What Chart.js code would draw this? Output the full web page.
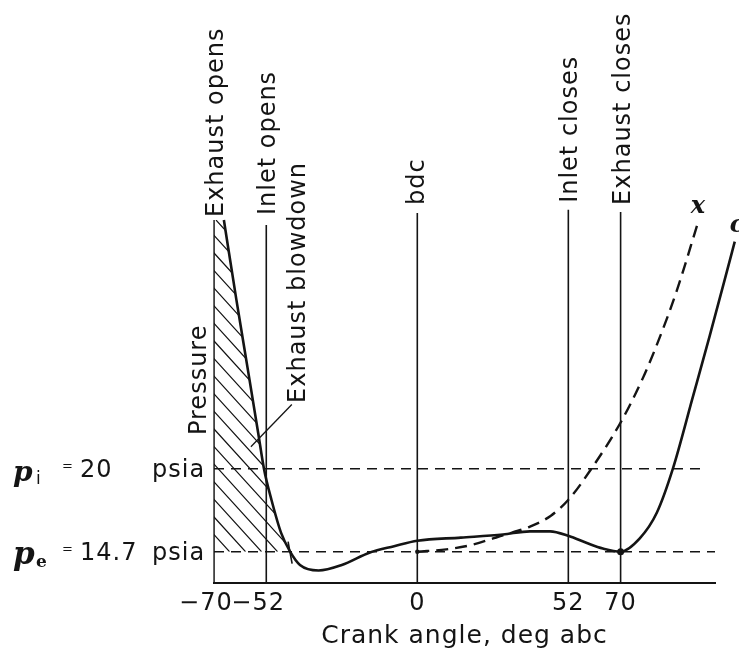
<!DOCTYPE html>
<html lang="en">
<head>
<meta charset="UTF-8">
<title>Valve timing and cylinder pressure</title>
<style>
  html, body { margin: 0; padding: 0; background: #fff; }
  #wrap { width: 739px; height: 655px; position: relative; }
</style>
</head>
<body>
<div id="wrap"><canvas id="valveChart"></canvas></div>

<script src="https://cdn.jsdelivr.net/npm/chart.js"></script>
<script>
// valve events, crank angle in deg abc
const eventAngles = [-70, -52, 0, 52, 70];
const eventNames = ['Exhaust opens', 'Inlet opens', 'bdc', 'Inlet closes', 'Exhaust closes'];
const eventTops = [35.88, 35.56, 36.33, 36.53, 36.4]; // psia where each marker stops

const tickAngles = [-70, -52, 0, 52, 70];

// reference pressures, psia
const pInlet = 20;
const pExhaust = 14.7;
const levelEnds = [99.7, 102.5];

// cylinder pressure, curve c
const cylAngle = [-66.6, -62.3, -58.5, -54.8, -52.8, -50.2, -46.9, -43.8, -40.4, -34, -26, -16.3, -8, 0, 15,
                  29.5, 38.8, 45.7, 52.2, 58.4, 63.9, 70, 76.6, 82.5, 88, 94.9, 100.7, 106.6, 109.3];
const cylPressure = [35.88, 30.8, 26.5, 22.3, 20.0, 18.0, 15.9, 14.7, 13.85, 13.5, 13.85, 14.65, 15.05, 15.4, 15.6,
                     15.8, 16.0, 16.0, 15.7, 15.25, 14.9, 14.7, 15.55, 17.2, 20.0, 24.6, 28.5, 32.6, 34.5];

// curve x
const altAngle = [0, 10, 18, 29.5, 38.8, 46, 52.2, 59.4, 70, 77.7, 83.5, 89.4, 96.6];
const altPressure = [14.7, 14.85, 15.1, 15.75, 16.3, 17.0, 18.05, 19.85, 22.95, 25.8, 28.4, 31.4, 35.7];

const blowdownEnd = 7; // index in cylAngle where blowdown reaches exhaust pressure

const ink = '#141414';
Chart.defaults.font.family = '"DejaVu Sans"';
Chart.defaults.color = ink;

const pts = (xs, ys) => xs.map((a, i) => ({ x: a, y: ys[i] }));

const datasets = [];
eventAngles.forEach((a, i) => {
  datasets.push({
    label: eventNames[i],
    data: [{ x: a, y: 12.7 }, { x: a, y: eventTops[i] }],
    borderColor: ink, borderWidth: 1.6, pointRadius: 0
  });
});
[pInlet, pExhaust].forEach((p, i) => {
  datasets.push({
    label: 'level ' + p,
    data: [{ x: -70, y: p }, { x: levelEnds[i], y: p }],
    borderColor: ink, borderWidth: 1.4, borderDash: [10, 7], pointRadius: 0
  });
});
datasets.push({
  label: 'c',
  data: pts(cylAngle, cylPressure),
  borderColor: ink, borderWidth: 2.6, cubicInterpolationMode: 'monotone',
  pointRadius: c => (c.raw && c.raw.x === 70 ? 3.5 : 0),
  pointBackgroundColor: ink, pointBorderWidth: 0, clip: false
});
datasets.push({
  label: 'x',
  data: pts(altAngle, altPressure),
  borderColor: ink, borderWidth: 2.4, borderDash: [12, 7], cubicInterpolationMode: 'monotone',
  pointRadius: c => (c.index === 0 ? 2.2 : 0),
  pointBackgroundColor: ink, pointBorderWidth: 0, clip: false
});

function upText(ctx, text, x, y) {
  ctx.save();
  ctx.translate(x, y);
  ctx.rotate(-Math.PI / 2);
  ctx.textAlign = 'left';
  ctx.textBaseline = 'alphabetic';
  ctx.fillText(text, 0, 0);
  ctx.restore();
}

// the lettering is a little loosely spaced
const spacingPlugin = {
  id: 'spacing',
  beforeUpdate(chart) { chart.ctx.letterSpacing = '1px'; },
  beforeDraw(chart) { chart.ctx.letterSpacing = '1px'; }
};

// diagonal hatching between the blowdown curve and the exhaust level
const hatchPlugin = {
  id: 'hatch',
  beforeDatasetsDraw(chart) {
    const idx = chart.data.datasets.findIndex(d => d.label === 'c');
    const line = chart.getDatasetMeta(idx).dataset;
    const { ctx, chartArea } = chart;
    const { x, y } = chart.scales;
    line.updateControlPoints(chartArea, 'x');
    const left = x.getPixelForValue(-70);
    const bottom = y.getPixelForValue(pExhaust);
    const top = y.getPixelForValue(eventTops[0]);
    ctx.save();
    ctx.beginPath();
    line.path(ctx, 0, blowdownEnd + 1);
    ctx.lineTo(left, bottom);
    ctx.lineTo(left, top);
    ctx.closePath();
    ctx.clip();
    ctx.beginPath();
    const h = bottom - top;
    for (let k = -h * 1.2; k < 120; k += 16) {
      ctx.moveTo(left + k, top);
      ctx.lineTo(left + k + h / 1.1, bottom);
    }
    ctx.strokeStyle = ink;
    ctx.lineWidth = 1.2;
    ctx.stroke();
    ctx.restore();
  }
};

const textPlugin = {
  id: 'figureText',
  afterDraw(chart) {
    const { ctx } = chart;
    const { x, y } = chart.scales;
    ctx.save();
    ctx.fillStyle = ink;
    ctx.strokeStyle = ink;
    ctx.letterSpacing = '1px';

    ctx.font = '24px "DejaVu Sans"';
    const gaps = [3, 10, 8, 7, 7];
    eventAngles.forEach((a, i) => {
      const off = eventNames[i] === 'bdc' ? 7 : 9;
      upText(ctx, eventNames[i], x.getPixelForValue(a) + off, y.getPixelForValue(eventTops[i]) - gaps[i]);
    });
    upText(ctx, 'Pressure', x.getPixelForValue(-70) - 8, y.getPixelForValue(22.15));
    upText(ctx, 'Exhaust blowdown', x.getPixelForValue(-38.7), y.getPixelForValue(24.2));

    // leader from the blowdown label into the hatched area
    ctx.lineWidth = 1.3;
    ctx.beginPath();
    ctx.moveTo(x.getPixelForValue(-43.2), y.getPixelForValue(24.1));
    ctx.lineTo(x.getPixelForValue(-57.3), y.getPixelForValue(21.4));
    ctx.stroke();

    // small stroke where blowdown ends
    const bx = x.getPixelForValue(cylAngle[blowdownEnd]);
    const by = y.getPixelForValue(cylPressure[blowdownEnd]);
    ctx.lineWidth = 1.6;
    ctx.beginPath();
    ctx.moveTo(bx - 2, by - 10);
    ctx.lineTo(bx + 2, by + 12);
    ctx.stroke();

    // pressure levels on the left
    ctx.letterSpacing = '0px';
    [[pInlet, 'i', '20', 28], [pExhaust, 'e', '14.7', 31]].forEach(([p, sub, num, size]) => {
      const py = y.getPixelForValue(p);
      ctx.textAlign = 'left';
      ctx.textBaseline = 'alphabetic';
      ctx.font = 'bold italic ' + size + 'px "DejaVu Serif"';
      ctx.fillText('p', 13, py + 12);
      ctx.font = sub === 'i' ? '17px "DejaVu Sans"' : 'bold 17px "DejaVu Serif"';
      ctx.fillText(sub, 36, py + 15);
      ctx.font = '13px "DejaVu Sans"';
      ctx.fillText('=', 62, py + 1);
      ctx.font = '24px "DejaVu Sans"';
      ctx.letterSpacing = '1px';
      ctx.fillText(num, 80, py + 8);
      ctx.fillText('psia', 152, py + 8);
      ctx.letterSpacing = '0px';
    });

    // curve names
    const lastOf = name => {
      const meta = chart.getDatasetMeta(chart.data.datasets.findIndex(d => d.label === name));
      return meta.data[meta.data.length - 1];
    };
    ctx.font = 'bold italic 24px "DejaVu Serif"';
    const px = lastOf('x');
    ctx.fillText('x', px.x - 7, px.y - 10);
    const pc = lastOf('c');
    ctx.fillText('c', pc.x - 5, pc.y - 10);
    ctx.restore();
  }
};

new Chart(document.getElementById('valveChart'), {
  type: 'line',
  data: { datasets },
  options: {
    responsive: true,
    maintainAspectRatio: false,
    animation: false,
    layout: { padding: { left: 214, right: 24, top: 202.5, bottom: 0 } },
    plugins: { legend: { display: false }, tooltip: { enabled: false } },
    scales: {
      x: {
        type: 'linear',
        bounds: 'data',
        afterDataLimits(s) { s.min = -70; s.max = 102.5; },
        afterBuildTicks(s) {
          s.min = -70; s.max = 102.5;
          s.ticks = tickAngles.map(v => ({ value: v }));
        },
        afterFit(s) { s.height = 72; },
        grid: { display: false, drawTicks: false },
        border: { display: true, color: ink, width: 2 },
        ticks: {
          color: ink, font: { size: 24 }, padding: 6, autoSkip: false, maxRotation: 0,
          // digits sit on the tick, the minus sign hangs to the left
          callback: v => (v < 0 ? '\u2212' + Math.abs(v) + '\u2007' : String(v))
        },
        title: {
          display: true, text: 'Crank angle, deg abc', color: ink,
          font: { size: 25 }, padding: { top: 0, bottom: 4 }
        }
      },
      y: { type: 'linear', display: false, min: 12.7, max: 37 }
    }
  },
  plugins: [spacingPlugin, hatchPlugin, textPlugin]
});
</script>
</body>
</html>
